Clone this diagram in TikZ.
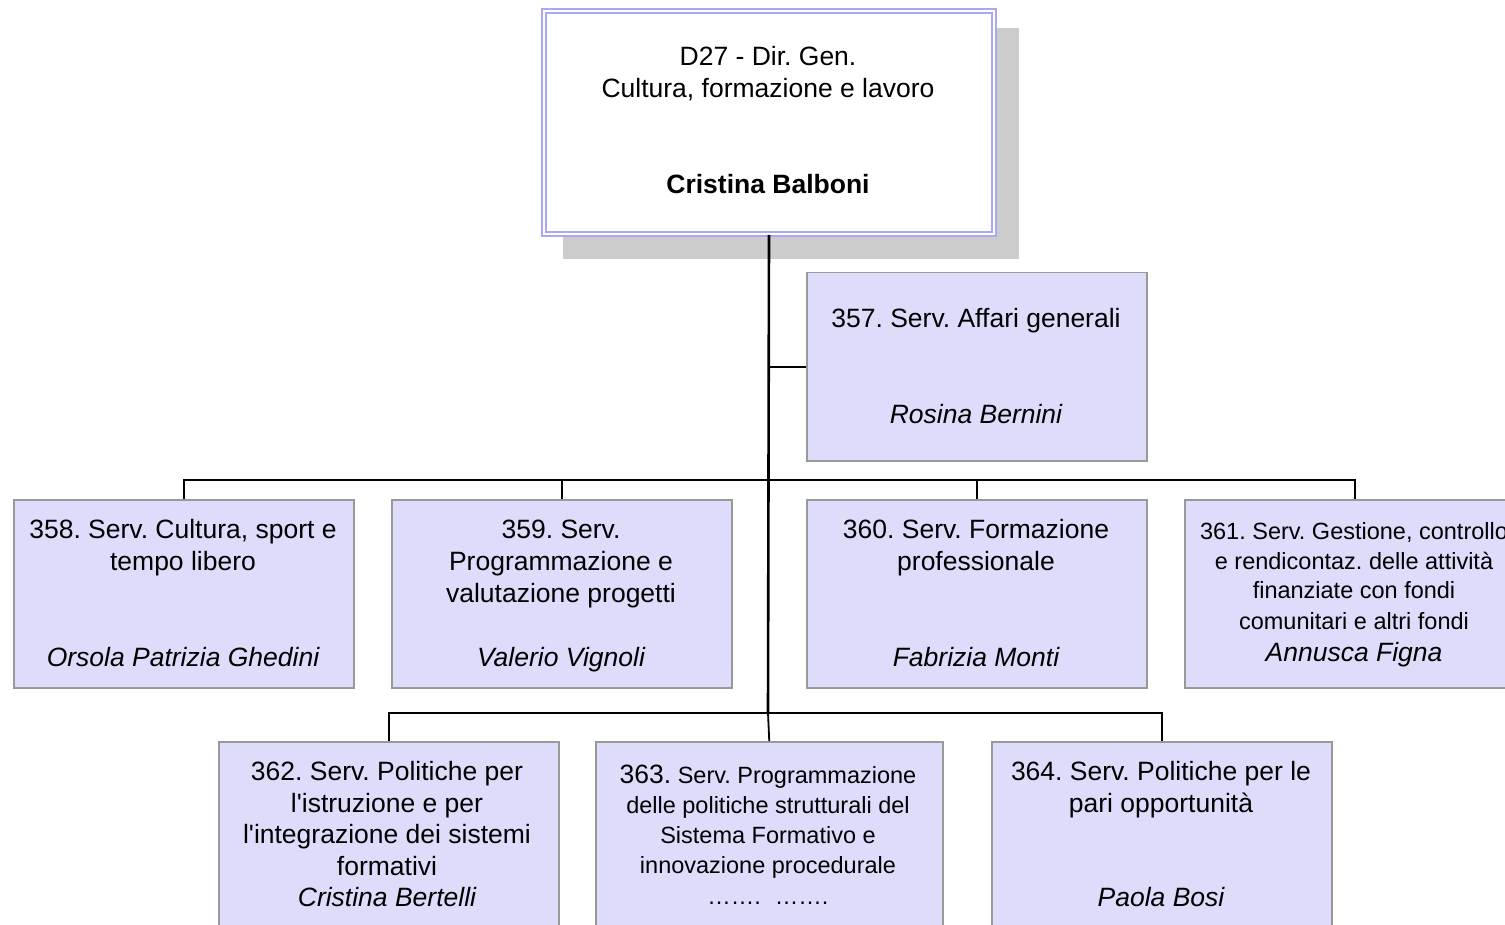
\documentclass[tikz,border=0pt]{standalone}
\usepackage{fontspec}
\setmainfont{Liberation Sans}
\begin{document}
\frenchspacing
\begin{tikzpicture}[x=1pt,y=-1pt,
  unit/.style={draw=boxline, line width=1.5pt, fill=boxfill, minimum width=340pt, minimum height=188pt, inner sep=0pt, anchor=north west},
  big/.style={anchor=base, inner sep=0pt, yshift=-1pt, font=\fontsize{26.5}{30}\selectfont},
  small/.style={anchor=base, inner sep=0pt, yshift=-1pt, font=\fontsize{23.5}{27}\selectfont},
  nm/.style={big, font=\fontsize{26.5}{30}\selectfont\itshape},
  link/.style={line width=1.8pt, black},
  trunk/.style={line width=2.6pt, black}]
\definecolor{boxfill}{HTML}{DDDDFB}
\definecolor{boxline}{HTML}{999999}
\definecolor{topline}{HTML}{A8A8F6}
\definecolor{shadow}{HTML}{CCCCCC}
\useasboundingbox (0,0) rectangle (1505,925);
\clip (0,0) rectangle (1505,925);
% top box with shadow
\fill[shadow] (563,28) rectangle (1019,259);
\node[draw=topline, line width=2pt, double=white, double distance=2pt, fill=white, minimum width=450pt, minimum height=223pt, inner sep=0pt, anchor=north west] (top) at (543,10) {};
\node[big] (t1) at (768,65) {D27 - Dir. Gen.};
\node[big] (t2) at (768,97) {Cultura, formazione e lavoro};
\node[big, font=\fontsize{26.5}{30}\selectfont\bfseries] (t3) at (768,193) {Cristina Balboni};
% units
\node[unit] (u357) at (806,272) {};
\node[unit] (u358) at (13,499) {};
\node[unit] (u359) at (391,499) {};
\node[unit] (u360) at (806,499) {};
\node[unit] (u361) at (1184,499) {};
\node[unit] (u362) at (218,741) {};
\node[unit, minimum width=347pt] (u363) at (595,741) {};
\node[unit] (u364) at (991,741) {};
% connectors
\coordinate (j357) at (768,367);
\coordinate (bus1) at (768,480);
\coordinate (bus2) at (768,713);
\draw[trunk] (top.south) -- (bus2);
\draw[link] (j357) -- (u357.west |- j357);
\draw[link] (u358.north) -- (u358.north |- bus1) -- (u361.north |- bus1) -- (u361.north);
\draw[link] (u359.north) -- (u359.north |- bus1);
\draw[link] (u360.north) -- (u360.north |- bus1);
\draw[link] (u362.north) -- (u362.north |- bus2) -- (u364.north |- bus2) -- (u364.north);
\draw[link] (bus2) -- (u363.north);
% texts
\node[big] (a1) at (976,326) {357. Serv. Affari generali};
\node[nm] (a2) at (976,422) {Rosina Bernini};
\node[big] (b1) at (183,537) {358. Serv. Cultura, sport e};
\node[big] (b2) at (183,569) {tempo libero};
\node[nm] (b3) at (183,665) {Orsola Patrizia Ghedini};
\node[big] (c1) at (561,537) {359. Serv.};
\node[big] (c2) at (561,569) {Programmazione e};
\node[big] (c3) at (561,601) {valutazione progetti};
\node[nm] (c4) at (561,665) {Valerio Vignoli};
\node[big] (d1) at (976,537) {360. Serv. Formazione};
\node[big] (d2) at (976,569) {professionale};
\node[nm] (d3) at (976,665) {Fabrizia Monti};
\node[small] (e1) at (1354,538) {361. Serv. Gestione, controllo};
\node[small] (e2) at (1354,568) {e rendicontaz. delle attività};
\node[small] (e3) at (1354,597) {finanziate con fondi};
\node[small] (e4) at (1354,628) {comunitari e altri fondi};
\node[nm] (e5) at (1354,660) {Annusca Figna};
\node[big] (f1) at (387,779) {362. Serv. Politiche per};
\node[big] (f2) at (387,811) {l\textquotesingle istruzione e per};
\node[big] (f3) at (387,842) {l\textquotesingle integrazione dei sistemi};
\node[big] (f4) at (387,874) {formativi};
\node[nm] (f5) at (387,905) {Cristina Bertelli};
\node[small] (g1) at (768,782) {{\fontsize{26.5}{30}\selectfont 363.} Serv. Programmazione};
\node[small] (g2) at (768,812) {delle politiche strutturali del};
\node[small] (g3) at (768,842) {Sistema Formativo e};
\node[small] (g4) at (768,872) {innovazione procedurale};
\node[small] (g5) at (768,903) {…….\hspace{14pt}…….};
\node[big] (h1) at (1161,779) {364. Serv. Politiche per le};
\node[big] (h2) at (1161,811) {pari opportunità};
\node[nm] (h3) at (1161,905) {Paola Bosi};
\end{tikzpicture}
\end{document}
